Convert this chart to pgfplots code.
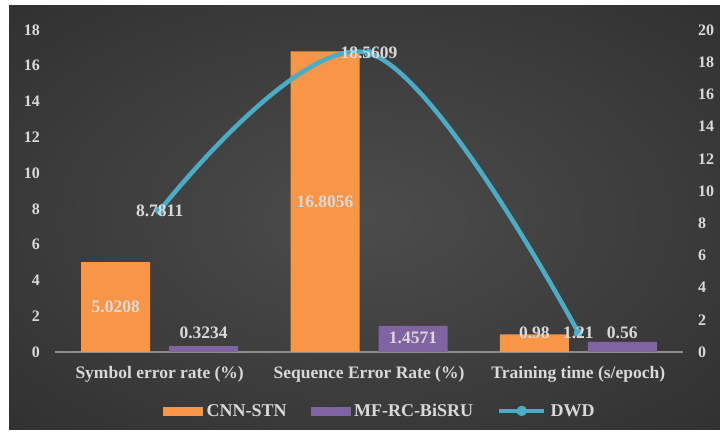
\documentclass[border=0pt]{standalone}
\usepackage{pgfplots}
\pgfplotsset{compat=1.18}
\usepackage{fontspec}
\setmainfont{Liberation Serif}
\definecolor{bgin}{HTML}{4C4C4C}
\definecolor{bgout}{HTML}{262626}
\definecolor{cnn}{HTML}{F79646}
\definecolor{mf}{HTML}{8064A2}
\definecolor{dwd}{HTML}{4BACC6}
\definecolor{txt}{HTML}{D9D9D9}
\definecolor{axl}{HTML}{8C8C8C}
\pgfdeclareradialshading{bgshade}{\pgfpoint{0bp}{0bp}}{color(0bp)=(bgin); color(50bp)=(bgout)}
\pgfplotstableread{
x y
0 5.0208
1 16.8056
2 0.98
}\cnndata
\pgfplotstableread{
x y
0 0.3234
1 1.4571
2 0.56
}\mfdata
\pgfplotstableread{
x y
0 8.7811
1 18.5609
2 1.21
}\dwddata
\pgfplotstableread{
x y lab
-0.21 2.51 5.0208
0.79 8.40 16.8056
1.79 1.06 0.98
0.21 1.06 0.3234
1.21 0.80 1.4571
2.21 1.06 0.56
}\barlabels
\begin{document}
\begin{tikzpicture}
\fill[white] (0pt,0pt) rectangle (720pt,436pt);
\shade[shading=bgshade] (9pt,6pt) rectangle (720pt,430pt);
\begin{axis}[
  at={(55pt,84pt)}, anchor=south west, scale only axis,
  width=628pt, height=322pt,
  xmin=-0.5, xmax=2.5, ymin=0, ymax=18,
  clip=false,
  axis x line*=bottom, axis y line*=left,
  x axis line style={draw=axl, line width=1.2pt},
  y axis line style={draw=none},
  major tick length=0pt,
  ytick={0,2,...,18},
  xtick={0,1,2},
  xticklabels={Symbol error rate (\%), Sequence Error Rate (\%), Training time (s/epoch)},
  /pgf/number format/assume math mode=true,
  yticklabel style={anchor=east, inner sep=0pt, xshift=-15pt, text=txt, font=\bfseries\fontsize{16}{19}\selectfont},
  xticklabel style={anchor=north, inner sep=0pt, yshift=-14pt, text=txt, font=\bfseries\fontsize{17.5}{20}\selectfont},
]
\addplot[ybar, bar width=69pt, bar shift=-44pt, fill=cnn, draw=none] table[x=x,y=y] {\cnndata};
\addplot[ybar, bar width=69pt, bar shift=44pt, fill=mf, draw=none] table[x=x,y=y] {\mfdata};
\addplot[draw=none, mark=none, nodes near coords, point meta=explicit symbolic,
  every node near coord/.style={anchor=center, inner sep=0pt, text=txt, font=\bfseries\fontsize{17.5}{20}\selectfont}]
  table[x=x,y=y,meta=lab] {\barlabels};
\end{axis}
\begin{axis}[
  at={(55pt,84pt)}, anchor=south west, scale only axis,
  width=628pt, height=322pt,
  xmin=-0.5, xmax=2.5, ymin=0, ymax=20,
  clip=false,
  axis x line=none, axis y line*=right,
  y axis line style={draw=none},
  major tick length=0pt,
  ytick={0,2,...,20},
  /pgf/number format/assume math mode=true,
  yticklabel style={anchor=west, inner sep=0pt, xshift=15pt, text=txt, font=\bfseries\fontsize{16}{19}\selectfont},
  legend columns=3,
  legend style={at={(0.172,-0.183)}, anchor=west, draw=none, fill=none, inner sep=0pt,
    text=txt, font=\bfseries\fontsize{18}{20}\selectfont,
    /tikz/every even column/.append style={column sep=22pt},
    /tikz/every odd column/.append style={column sep=2pt}},
  legend cell align=left,
]
\addlegendimage{legend image code/.code={\fill[cnn] (0pt,-4pt) rectangle (39pt,4pt);}}
\addlegendentry{CNN-STN}
\addlegendimage{legend image code/.code={\fill[mf] (0pt,-4pt) rectangle (39pt,4pt);}}
\addlegendentry{MF-RC-BiSRU}
\addlegendimage{legend image code/.code={\draw[dwd, line width=4.5pt] (0pt,0pt) -- (45pt,0pt); \fill[dwd] (22.5pt,0pt) circle (5pt);}}
\addlegendentry{DWD}
\addplot[color=dwd, line width=4.5pt, smooth, tension=0.6, mark=*, mark size=4pt,
  mark options={fill=dwd, draw=dwd, line width=0pt},
  nodes near coords, point meta=explicit symbolic,
  every node near coord/.style={anchor=center, inner sep=0pt, text=txt, font=\bfseries\fontsize{17.5}{20}\selectfont}]
  table[x=x,y=y,meta index=1] {\dwddata};
\end{axis}
\end{tikzpicture}
\end{document}
